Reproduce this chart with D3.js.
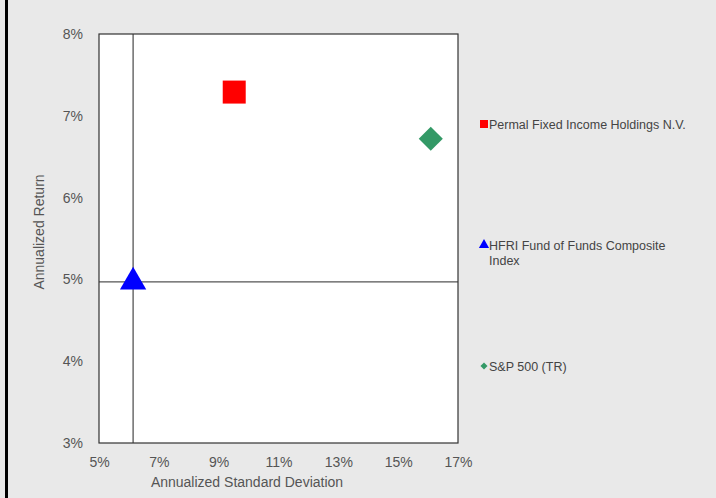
<!DOCTYPE html>
<html><head><meta charset="utf-8">
<script src="https://cdn.jsdelivr.net/npm/d3@7"></script>
<style>
body{margin:0;background:#e9e9e9;}
svg{display:block;}
text{font-family:"Liberation Sans",Arial,sans-serif;}
</style></head>
<body>
<svg id="c" width="716" height="498"></svg>
<script>
const seriesNames = ["Permal Fixed Income Holdings N.V.", "HFRI Fund of Funds Composite Index", "S&P 500 (TR)"];
const stdDevs = [9.52, 6.14, 16.09];
const returns = [7.29, 4.97, 6.72];
const colors = ["#ff0000", "#0000ff", "#339966"];
const shapes = ["square", "triangle", "diamond"];
const xTicks = [5, 7, 9, 11, 13, 15, 17];
const yTicks = [3, 4, 5, 6, 7, 8];
const benchmarkIndex = 1;

const svg = d3.select("#c");
svg.append("rect").attr("width",716).attr("height",498).attr("fill","#e9e9e9");
svg.append("rect").attr("x",5).attr("y",0).attr("width",3).attr("height",498).attr("fill","#000");

const m = {l:99, t:34, r:458, b:443};
const x = d3.scaleLinear().domain([5,17]).range([m.l,m.r]);
const y = d3.scaleLinear().domain([3,8]).range([m.b,m.t]);

svg.append("rect").attr("x",m.l).attr("y",m.t).attr("width",m.r-m.l).attr("height",m.b-m.t)
  .attr("fill","#fff");

// crosshair at benchmark
const g = svg.append("g");
g.append("line").attr("x1",x(stdDevs[benchmarkIndex])).attr("x2",x(stdDevs[benchmarkIndex]))
  .attr("y1",m.t).attr("y2",m.b).attr("stroke","#555").attr("stroke-width",1.3);
g.append("line").attr("x1",m.l).attr("x2",m.r)
  .attr("y1",y(returns[benchmarkIndex])).attr("y2",y(returns[benchmarkIndex])).attr("stroke","#555").attr("stroke-width",1.3);

svg.append("rect").attr("x",m.l).attr("y",m.t).attr("width",m.r-m.l).attr("height",m.b-m.t)
  .attr("fill","none").attr("stroke","#333").attr("stroke-width",1.2);

// axes
const xAxis = d3.axisBottom(x).tickValues(xTicks).tickSize(0).tickPadding(14).tickFormat(d=>d+"%");
const gx = svg.append("g").attr("transform",`translate(0,${m.b})`).call(xAxis);
gx.select(".domain").remove();
gx.selectAll("text").attr("font-size",14).attr("fill","#555").attr("font-family","Liberation Sans, Arial, sans-serif");

const yAxis = d3.axisLeft(y).tickValues(yTicks).tickSize(0).tickPadding(16).tickFormat(d=>d+"%");
const gy = svg.append("g").attr("transform",`translate(${m.l},0)`).call(yAxis);
gy.select(".domain").remove();
gy.selectAll("text").attr("font-size",14).attr("fill","#555").attr("font-family","Liberation Sans, Arial, sans-serif");

svg.append("text").attr("x",247).attr("y",487).attr("text-anchor","middle")
  .attr("font-size",14).attr("fill","#555").text("Annualized Standard Deviation");
svg.append("text").attr("transform","translate(44,232) rotate(-90)").attr("text-anchor","middle")
  .attr("font-size",14).attr("fill","#555").text("Annualized Return");

// markers
const symType = {square:d3.symbolSquare, triangle:d3.symbolTriangle, diamond:d3.symbolSquare};
const data = seriesNames.map((n,i)=>({name:n, sd:stdDevs[i], r:returns[i], c:colors[i], s:shapes[i]}));
const big = {square:23*23, triangle:300, diamond:17*17};
svg.append("g").selectAll("path").data(data).join("path")
  .attr("d",d=>d3.symbol().type(symType[d.s]).size(big[d.s])())
  .attr("transform",d=>`translate(${x(d.sd)},${y(d.r)})${d.s==="diamond"?" rotate(45)":""}`)
  .attr("fill",d=>d.c);

// legend
const legY = [124, 245, 366];
const small = {square:64, triangle:45, diamond:25};
const lg = svg.append("g");
data.forEach((d,i)=>{
  lg.append("path").attr("d",d3.symbol().type(symType[d.s]).size(small[d.s])())
    .attr("transform",`translate(484,${legY[i]})${d.s==="diamond"?" rotate(45)":""}`)
    .attr("fill",d.c);
  const t = lg.append("text").attr("x",489).attr("y",legY[i]+4.5).attr("font-size",12.5).attr("fill","#444");
  if (i===1) {
    t.append("tspan").attr("x",489).text("HFRI Fund of Funds Composite");
    t.append("tspan").attr("x",489).attr("dy",15).text("Index");
  } else t.text(d.name);
});
</script>
</body></html>
